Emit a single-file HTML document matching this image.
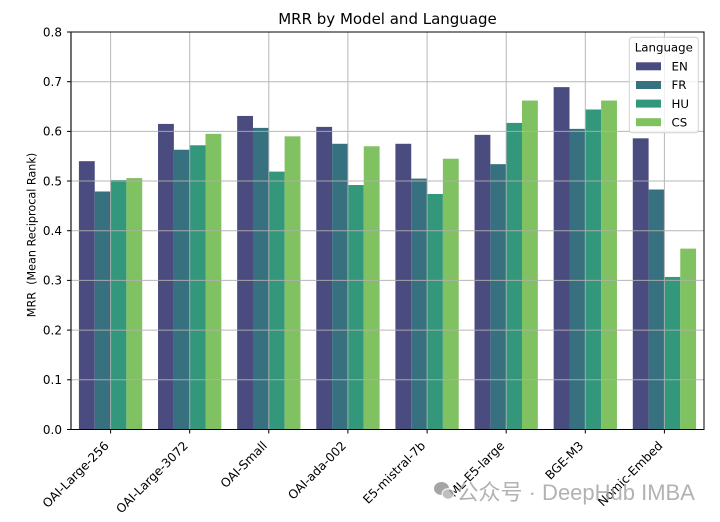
<!DOCTYPE html>
<html><head><meta charset="utf-8"><style>
html,body{margin:0;padding:0;background:#fff;}
svg{display:block;}
text{font-family:"DejaVu Sans","Liberation Sans",sans-serif;fill:#000;}
</style></head><body>
<svg width="720" height="522" viewBox="0 0 720 522" xmlns="http://www.w3.org/2000/svg">
<rect width="720" height="522" fill="#fff"/>
<g transform="translate(71,429.5) scale(79.125,-496.9)">
<g fill="#4A4B7E">
<rect x="0.1" y="0" width="0.2" height="0.540"/>
<rect x="1.1" y="0" width="0.2" height="0.615"/>
<rect x="2.1" y="0" width="0.2" height="0.631"/>
<rect x="3.1" y="0" width="0.2" height="0.609"/>
<rect x="4.1" y="0" width="0.2" height="0.575"/>
<rect x="5.1" y="0" width="0.2" height="0.593"/>
<rect x="6.1" y="0" width="0.2" height="0.689"/>
<rect x="7.1" y="0" width="0.2" height="0.586"/>
</g>
<g fill="#37717F">
<rect x="0.3" y="0" width="0.2" height="0.479"/>
<rect x="1.3" y="0" width="0.2" height="0.563"/>
<rect x="2.3" y="0" width="0.2" height="0.607"/>
<rect x="3.3" y="0" width="0.2" height="0.575"/>
<rect x="4.3" y="0" width="0.2" height="0.505"/>
<rect x="5.3" y="0" width="0.2" height="0.534"/>
<rect x="6.3" y="0" width="0.2" height="0.605"/>
<rect x="7.3" y="0" width="0.2" height="0.483"/>
</g>
<g fill="#33977C">
<rect x="0.5" y="0" width="0.2" height="0.502"/>
<rect x="1.5" y="0" width="0.2" height="0.572"/>
<rect x="2.5" y="0" width="0.2" height="0.519"/>
<rect x="3.5" y="0" width="0.2" height="0.492"/>
<rect x="4.5" y="0" width="0.2" height="0.474"/>
<rect x="5.5" y="0" width="0.2" height="0.617"/>
<rect x="6.5" y="0" width="0.2" height="0.644"/>
<rect x="7.5" y="0" width="0.2" height="0.307"/>
</g>
<g fill="#80C161">
<rect x="0.7" y="0" width="0.2" height="0.506"/>
<rect x="1.7" y="0" width="0.2" height="0.595"/>
<rect x="2.7" y="0" width="0.2" height="0.590"/>
<rect x="3.7" y="0" width="0.2" height="0.570"/>
<rect x="4.7" y="0" width="0.2" height="0.545"/>
<rect x="5.7" y="0" width="0.2" height="0.662"/>
<rect x="6.7" y="0" width="0.2" height="0.662"/>
<rect x="7.7" y="0" width="0.2" height="0.364"/>
</g>
</g>
<g stroke="#b0b0b0" stroke-width="1" fill="none" opacity="0.9">
<line x1="71" x2="704" y1="379.8" y2="379.8"/>
<line x1="71" x2="704" y1="330.1" y2="330.1"/>
<line x1="71" x2="704" y1="280.4" y2="280.4"/>
<line x1="71" x2="704" y1="230.7" y2="230.7"/>
<line x1="71" x2="704" y1="181.0" y2="181.0"/>
<line x1="71" x2="704" y1="131.4" y2="131.4"/>
<line x1="71" x2="704" y1="81.7" y2="81.7"/>
<line x1="110.6" x2="110.6" y1="32" y2="429.5"/>
<line x1="189.7" x2="189.7" y1="32" y2="429.5"/>
<line x1="268.8" x2="268.8" y1="32" y2="429.5"/>
<line x1="347.9" x2="347.9" y1="32" y2="429.5"/>
<line x1="427.1" x2="427.1" y1="32" y2="429.5"/>
<line x1="506.2" x2="506.2" y1="32" y2="429.5"/>
<line x1="585.3" x2="585.3" y1="32" y2="429.5"/>
<line x1="664.4" x2="664.4" y1="32" y2="429.5"/>
</g>
<rect x="71" y="32" width="633" height="397.5" fill="none" stroke="#000" stroke-width="1"/>
<line x1="71" x2="71" y1="32" y2="429.5" stroke="#333" stroke-width="1.4"/>
<g stroke="#000" stroke-width="1">
<line x1="67" x2="71" y1="429.5" y2="429.5"/>
<line x1="67" x2="71" y1="379.8" y2="379.8"/>
<line x1="67" x2="71" y1="330.1" y2="330.1"/>
<line x1="67" x2="71" y1="280.4" y2="280.4"/>
<line x1="67" x2="71" y1="230.7" y2="230.7"/>
<line x1="67" x2="71" y1="181.0" y2="181.0"/>
<line x1="67" x2="71" y1="131.4" y2="131.4"/>
<line x1="67" x2="71" y1="81.7" y2="81.7"/>
<line x1="67" x2="71" y1="32" y2="32"/>
<line x1="110.6" x2="110.6" y1="429.5" y2="433.5"/>
<line x1="189.7" x2="189.7" y1="429.5" y2="433.5"/>
<line x1="268.8" x2="268.8" y1="429.5" y2="433.5"/>
<line x1="347.9" x2="347.9" y1="429.5" y2="433.5"/>
<line x1="427.1" x2="427.1" y1="429.5" y2="433.5"/>
<line x1="506.2" x2="506.2" y1="429.5" y2="433.5"/>
<line x1="585.3" x2="585.3" y1="429.5" y2="433.5"/>
<line x1="664.4" x2="664.4" y1="429.5" y2="433.5"/>
</g>
<g font-size="12" text-anchor="end">
<text x="62" y="433.8">0.0</text>
<text x="62" y="384.1">0.1</text>
<text x="62" y="334.4">0.2</text>
<text x="62" y="284.7">0.3</text>
<text x="62" y="235">0.4</text>
<text x="62" y="185.3">0.5</text>
<text x="62" y="135.7">0.6</text>
<text x="62" y="86">0.7</text>
<text x="62" y="36.3">0.8</text>
</g>
<g font-size="12.2" text-anchor="end">
<text transform="translate(109.6,446.5) rotate(-45)">OAI-Large-256</text>
<text transform="translate(188.7,446.5) rotate(-45)">OAI-Large-3072</text>
<text transform="translate(267.8,446.5) rotate(-45)">OAI-Small</text>
<text transform="translate(346.9,446.5) rotate(-45)">OAI-ada-002</text>
<text transform="translate(426.1,446.5) rotate(-45)">E5-mistral-7b</text>
<text transform="translate(505.2,446.5) rotate(-45)">ML-E5-large</text>
<text transform="translate(584.3,446.5) rotate(-45)">BGE-M3</text>
<text transform="translate(663.4,446.5) rotate(-45)">Nomic-Embed</text>
</g>
<text x="387.5" y="24" font-size="15" text-anchor="middle">MRR by Model and Language</text>
<text transform="translate(35.5,235) rotate(-90)" font-size="11.2" text-anchor="middle" xml:space="preserve">MRR  (Mean Reciprocal Rank)</text>
<rect x="629.3" y="37.3" width="69" height="95.4" rx="3" ry="3" fill="#fff" fill-opacity="0.8" stroke="#d0d0d0" stroke-width="1"/>
<text x="663.8" y="51.5" font-size="11.8" text-anchor="middle">Language</text>
<rect x="636" y="62.3" width="25" height="8" fill="#4A4B7E"/>
<rect x="636" y="81" width="25" height="8" fill="#37717F"/>
<rect x="636" y="99.6" width="25" height="8" fill="#33977C"/>
<rect x="636" y="118.2" width="25" height="8" fill="#80C161"/>
<g font-size="11.8">
<text x="671.5" y="70.5">EN</text>
<text x="671.5" y="89.2">FR</text>
<text x="671.5" y="107.8">HU</text>
<text x="671.5" y="126.4">CS</text>
</g>
<g opacity="0.8">
<ellipse cx="441.5" cy="488.5" rx="7.5" ry="6.5" fill="#8f8f8f"/>
<ellipse cx="448" cy="494" rx="6" ry="5.2" fill="#b0b0b0" stroke="#fff" stroke-width="1"/>
<text x="456.5" y="500" font-size="22" style="font-family:'Liberation Sans','Noto Sans CJK SC',sans-serif;fill:#a0a0a0">公众号 · DeepHub IMBA</text>
</g>
</svg>
</body></html>
